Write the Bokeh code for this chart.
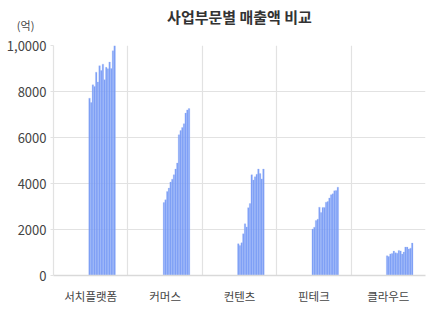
import numpy as np
from bokeh.plotting import figure
from bokeh.models import Range1d, FixedTicker, Label, ColumnDataSource
from bokeh.embed import file_html
from bokeh.resources import INLINE

# ---- data ----
categories = ["서치플랫폼", "커머스", "컨텐츠", "핀테크", "클라우드"]
search_platform = [7710, 7520, 8290, 8220, 8840, 8410, 9120, 8910, 9190, 8510, 9050, 8990, 9280, 9000, 9770, 9990]
commerce = [3170, 3290, 3650, 3800, 4060, 4190, 4380, 4630, 4890, 6120, 6300, 6430, 6600, 7060, 7200, 7260]
contents = [1380, 1300, 1420, 1810, 2250, 2110, 2950, 3130, 4380, 4150, 4290, 4400, 4630, 4430, 4200, 4630]
fintech = [2020, 2100, 2390, 2450, 2970, 2740, 2960, 2960, 3190, 3220, 3370, 3510, 3550, 3680, 3700, 3840]
cloud = [860, 830, 940, 960, 1060, 990, 970, 1090, 1070, 930, 1020, 1235, 1235, 1150, 1190, 1410]
series = [search_platform, commerce, contents, fintech, cloud]
y_ticks = [0, 2000, 4000, 6000, 8000, 10000]
y_tick_labels = ["0", "2000", "4000", "6000", "8000", "1,0000"]
title_text = "사업부문별 매출액 비교"
unit_text = "(억)"

# ---- styling constants ----
FONT = "Noto Sans CJK KR"
BAR_STEP = 0.0225      # spacing between bars within a category (category = 1 unit)
GROUP_OFFSET = -0.027  # group starts just left of category centre

xs, tops = [], []
for k, vals in enumerate(series):
    for i, v in enumerate(vals):
        xs.append(k + 0.5 + GROUP_OFFSET + (i + 0.5) * BAR_STEP)
        tops.append(v)
src = ColumnDataSource(dict(x=xs, top=tops))

p = figure(width=439, height=325, output_backend="svg", toolbar_location=None,
           x_range=Range1d(0, 5), y_range=Range1d(0, 10000),
           min_border_left=53, min_border_right=14, min_border_top=45, min_border_bottom=50)
p.outline_line_color = None
p.background_fill_color = "white"

p.vbar(x="x", top="top", width=BAR_STEP * 0.92, source=src,
       fill_color="#6f95f5", fill_alpha=0.92, line_color="#a3bbf9", line_width=0.3)

# grid
p.xgrid.ticker = FixedTicker(ticks=[0, 1, 2, 3, 4, 5])
p.xgrid.grid_line_color = "#e2e2e2"
p.xgrid.grid_line_width = 1.2
p.ygrid.ticker = FixedTicker(ticks=y_ticks)
p.ygrid.grid_line_color = "#e2e2e2"
p.ygrid.grid_line_width = 1.2

# x axis
p.xaxis.ticker = FixedTicker(ticks=[k + 0.5 for k in range(len(categories))])
p.xaxis.major_label_overrides = {k + 0.5: c for k, c in enumerate(categories)}
p.xaxis.major_tick_line_color = None
p.xaxis.minor_tick_line_color = None
p.xaxis.axis_line_color = "#d9d9d9"
p.xaxis.axis_line_width = 1.5
p.xaxis.major_label_standoff = 6
p.xaxis.major_label_text_font = FONT
p.xaxis.major_label_text_font_size = "11.5px"
p.xaxis.major_label_text_color = "#444444"

# y axis
p.yaxis.ticker = FixedTicker(ticks=y_ticks)
p.yaxis.major_label_overrides = {t: l for t, l in zip(y_ticks, y_tick_labels)}
p.yaxis.axis_line_color = "#e2e2e2"
p.yaxis.axis_line_width = 1.2
p.yaxis.major_tick_line_color = "#e2e2e2"
p.yaxis.major_tick_out = 3
p.yaxis.major_tick_in = 0
p.yaxis.minor_tick_line_color = None
p.yaxis.major_label_standoff = 4
p.yaxis.major_label_text_font = FONT
p.yaxis.major_label_text_font_size = "13px"
p.yaxis.major_label_text_color = "#444444"

# title and unit (placed in the top side panel so they are not clipped to the frame)
p.add_layout(Label(x=2.5, y=11250, text=title_text, text_align="center", text_baseline="middle",
                   text_font=FONT, text_font_size="15px", text_font_style="bold",
                   text_color="#333333"), "above")
p.add_layout(Label(x=-0.375, y=10900, text=unit_text, text_align="center", text_baseline="middle",
                   text_font=FONT, text_font_size="11px", text_color="#444444"), "above")

open("out.html", "w").write(file_html(p, INLINE))
